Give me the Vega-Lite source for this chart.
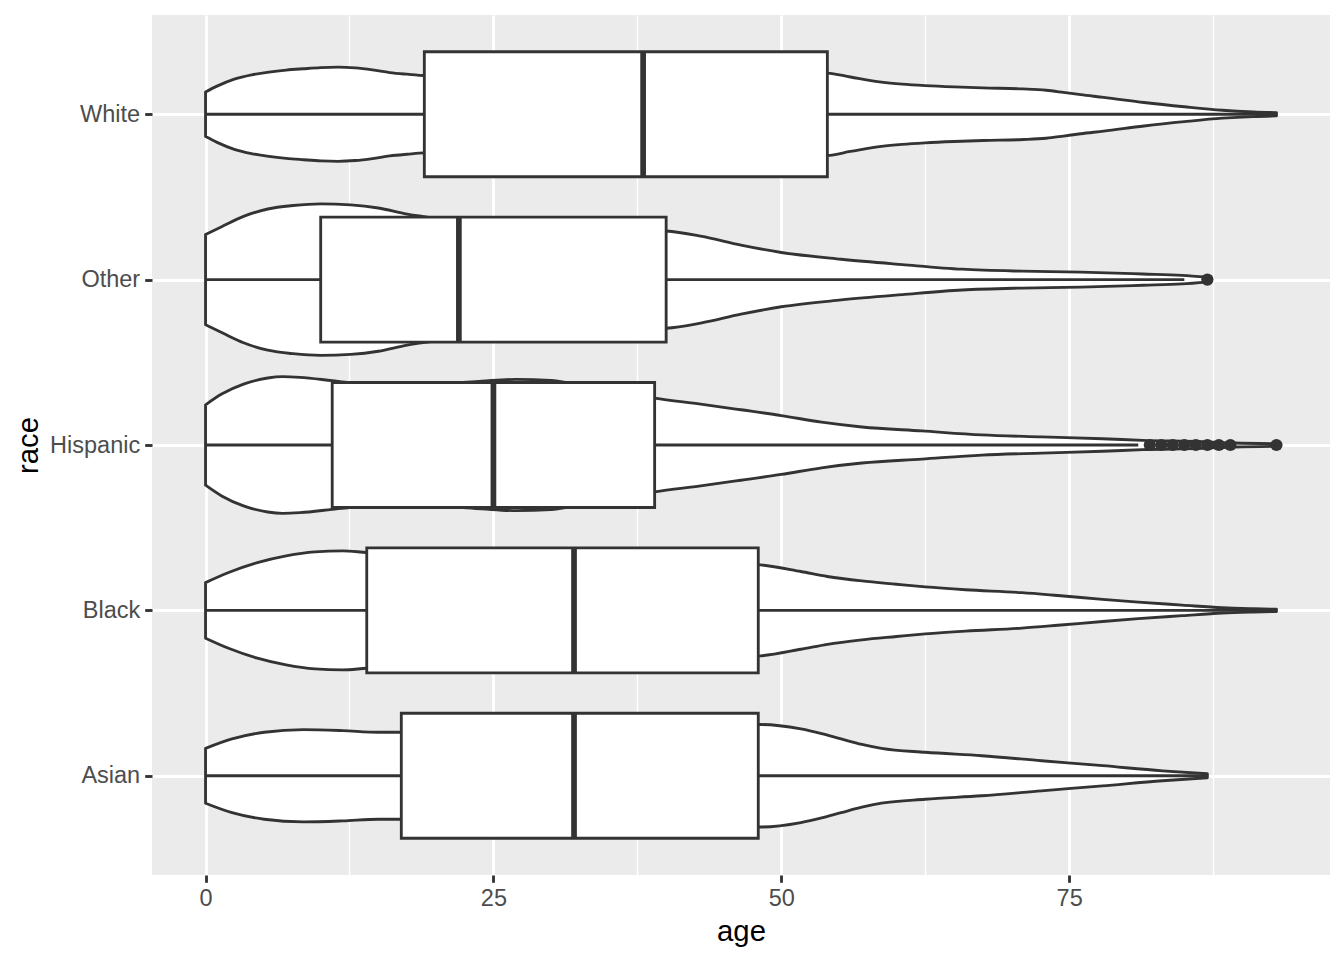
{
  "$schema": "https://vega.github.io/schema/vega-lite/v6.json",
  "width": 1178,
  "height": 860,
  "autosize": {"type": "none"},
  "padding": {"left": 152, "top": 15, "right": 14, "bottom": 85},
  "background": "white",
  "config": {
    "view": {"fill": "#EBEBEB", "stroke": null},
    "font": "Liberation Sans",
    "axis": {
      "domain": false,
      "tickColor": "#333333",
      "tickWidth": 2.84,
      "tickSize": 7.3,
      "labelColor": "#4D4D4D",
      "labelFontSize": 23.5,
      "labelFont": "Liberation Sans",
      "titleFont": "Liberation Sans",
      "titleFontSize": 29.3,
      "titleFontWeight": "normal",
      "titleColor": "#000000",
      "gridColor": "#FFFFFF",
      "gridOpacity": 1
    }
  },
  "datasets": {
    "violin": [
      {"race": "White", "age": 0, "density": 0.135},
      {"race": "White", "age": 1, "density": 0.17},
      {"race": "White", "age": 2.5, "density": 0.212},
      {"race": "White", "age": 4, "density": 0.238},
      {"race": "White", "age": 5.5, "density": 0.255},
      {"race": "White", "age": 7, "density": 0.267},
      {"race": "White", "age": 8.5, "density": 0.275},
      {"race": "White", "age": 10, "density": 0.282},
      {"race": "White", "age": 11.5, "density": 0.285},
      {"race": "White", "age": 13, "density": 0.28},
      {"race": "White", "age": 14.5, "density": 0.268},
      {"race": "White", "age": 16, "density": 0.252},
      {"race": "White", "age": 17.5, "density": 0.242},
      {"race": "White", "age": 19, "density": 0.234},
      {"race": "White", "age": 22, "density": 0.232},
      {"race": "White", "age": 26, "density": 0.234},
      {"race": "White", "age": 30, "density": 0.238},
      {"race": "White", "age": 35, "density": 0.243},
      {"race": "White", "age": 40, "density": 0.248},
      {"race": "White", "age": 45, "density": 0.252},
      {"race": "White", "age": 50, "density": 0.255},
      {"race": "White", "age": 54, "density": 0.249},
      {"race": "White", "age": 56, "density": 0.225},
      {"race": "White", "age": 58.7, "density": 0.194},
      {"race": "White", "age": 60.5, "density": 0.182},
      {"race": "White", "age": 62.5, "density": 0.173},
      {"race": "White", "age": 65, "density": 0.165},
      {"race": "White", "age": 67.5, "density": 0.159},
      {"race": "White", "age": 71, "density": 0.153},
      {"race": "White", "age": 73, "density": 0.145},
      {"race": "White", "age": 74.5, "density": 0.132},
      {"race": "White", "age": 76, "density": 0.118},
      {"race": "White", "age": 78, "density": 0.102},
      {"race": "White", "age": 81.5, "density": 0.071},
      {"race": "White", "age": 85, "density": 0.045},
      {"race": "White", "age": 88.3, "density": 0.024},
      {"race": "White", "age": 91, "density": 0.014},
      {"race": "White", "age": 93, "density": 0.01},
      {"race": "Other", "age": 0, "density": 0.273},
      {"race": "Other", "age": 1.4, "density": 0.32},
      {"race": "Other", "age": 3.3, "density": 0.382},
      {"race": "Other", "age": 5.4, "density": 0.427},
      {"race": "Other", "age": 7.6, "density": 0.448},
      {"race": "Other", "age": 10, "density": 0.458},
      {"race": "Other", "age": 12.6, "density": 0.452},
      {"race": "Other", "age": 15, "density": 0.433},
      {"race": "Other", "age": 17.5, "density": 0.396},
      {"race": "Other", "age": 20, "density": 0.372},
      {"race": "Other", "age": 25, "density": 0.345},
      {"race": "Other", "age": 30, "density": 0.322},
      {"race": "Other", "age": 35, "density": 0.305},
      {"race": "Other", "age": 40, "density": 0.294},
      {"race": "Other", "age": 43, "density": 0.263},
      {"race": "Other", "age": 46.5, "density": 0.209},
      {"race": "Other", "age": 50, "density": 0.164},
      {"race": "Other", "age": 55.2, "density": 0.123},
      {"race": "Other", "age": 60.5, "density": 0.091},
      {"race": "Other", "age": 65.7, "density": 0.063},
      {"race": "Other", "age": 70.9, "density": 0.051},
      {"race": "Other", "age": 76, "density": 0.045},
      {"race": "Other", "age": 81.4, "density": 0.034},
      {"race": "Other", "age": 84.8, "density": 0.026},
      {"race": "Other", "age": 87, "density": 0.015},
      {"race": "Hispanic", "age": 0, "density": 0.243},
      {"race": "Hispanic", "age": 1.4, "density": 0.308},
      {"race": "Hispanic", "age": 3.3, "density": 0.368},
      {"race": "Hispanic", "age": 5.4, "density": 0.405},
      {"race": "Hispanic", "age": 6.7, "density": 0.413},
      {"race": "Hispanic", "age": 8.2, "density": 0.409},
      {"race": "Hispanic", "age": 11, "density": 0.389},
      {"race": "Hispanic", "age": 12.5, "density": 0.378},
      {"race": "Hispanic", "age": 15, "density": 0.368},
      {"race": "Hispanic", "age": 18, "density": 0.364},
      {"race": "Hispanic", "age": 21, "density": 0.372},
      {"race": "Hispanic", "age": 24, "density": 0.386},
      {"race": "Hispanic", "age": 27, "density": 0.397},
      {"race": "Hispanic", "age": 30, "density": 0.39},
      {"race": "Hispanic", "age": 32, "density": 0.37},
      {"race": "Hispanic", "age": 35, "density": 0.335},
      {"race": "Hispanic", "age": 39, "density": 0.283},
      {"race": "Hispanic", "age": 43, "density": 0.247},
      {"race": "Hispanic", "age": 46.5, "density": 0.213},
      {"race": "Hispanic", "age": 50, "density": 0.178},
      {"race": "Hispanic", "age": 53.5, "density": 0.138},
      {"race": "Hispanic", "age": 57, "density": 0.109},
      {"race": "Hispanic", "age": 62.2, "density": 0.085},
      {"race": "Hispanic", "age": 67.4, "density": 0.061},
      {"race": "Hispanic", "age": 72.6, "density": 0.049},
      {"race": "Hispanic", "age": 77.9, "density": 0.038},
      {"race": "Hispanic", "age": 81.4, "density": 0.028},
      {"race": "Hispanic", "age": 86.6, "density": 0.02},
      {"race": "Hispanic", "age": 89.4, "density": 0.012},
      {"race": "Hispanic", "age": 93, "density": 0.008},
      {"race": "Black", "age": 0, "density": 0.168},
      {"race": "Black", "age": 2, "density": 0.229},
      {"race": "Black", "age": 4.5, "density": 0.289},
      {"race": "Black", "age": 7, "density": 0.33},
      {"race": "Black", "age": 9.5, "density": 0.354},
      {"race": "Black", "age": 11.9, "density": 0.36},
      {"race": "Black", "age": 14, "density": 0.35},
      {"race": "Black", "age": 18, "density": 0.34},
      {"race": "Black", "age": 22, "density": 0.333},
      {"race": "Black", "age": 26, "density": 0.326},
      {"race": "Black", "age": 30, "density": 0.318},
      {"race": "Black", "age": 35, "density": 0.308},
      {"race": "Black", "age": 40, "density": 0.298},
      {"race": "Black", "age": 44, "density": 0.288},
      {"race": "Black", "age": 48.2, "density": 0.275},
      {"race": "Black", "age": 51.7, "density": 0.235},
      {"race": "Black", "age": 54, "density": 0.205},
      {"race": "Black", "age": 57, "density": 0.178},
      {"race": "Black", "age": 60, "density": 0.158},
      {"race": "Black", "age": 62.5, "density": 0.142},
      {"race": "Black", "age": 66, "density": 0.125},
      {"race": "Black", "age": 70.9, "density": 0.107},
      {"race": "Black", "age": 74, "density": 0.09},
      {"race": "Black", "age": 77.9, "density": 0.067},
      {"race": "Black", "age": 81, "density": 0.05},
      {"race": "Black", "age": 84.8, "density": 0.032},
      {"race": "Black", "age": 88.3, "density": 0.016},
      {"race": "Black", "age": 91, "density": 0.01},
      {"race": "Black", "age": 93, "density": 0.007},
      {"race": "Asian", "age": 0, "density": 0.166},
      {"race": "Asian", "age": 2.3, "density": 0.223},
      {"race": "Asian", "age": 5.1, "density": 0.263},
      {"race": "Asian", "age": 8.5, "density": 0.279},
      {"race": "Asian", "age": 11.9, "density": 0.273},
      {"race": "Asian", "age": 15, "density": 0.263},
      {"race": "Asian", "age": 17, "density": 0.263},
      {"race": "Asian", "age": 20, "density": 0.265},
      {"race": "Asian", "age": 25, "density": 0.275},
      {"race": "Asian", "age": 30, "density": 0.287},
      {"race": "Asian", "age": 35, "density": 0.298},
      {"race": "Asian", "age": 40, "density": 0.306},
      {"race": "Asian", "age": 45, "density": 0.31},
      {"race": "Asian", "age": 48.2, "density": 0.31},
      {"race": "Asian", "age": 51.7, "density": 0.283},
      {"race": "Asian", "age": 53.5, "density": 0.255},
      {"race": "Asian", "age": 55.2, "density": 0.223},
      {"race": "Asian", "age": 57, "density": 0.19},
      {"race": "Asian", "age": 58.7, "density": 0.166},
      {"race": "Asian", "age": 62.5, "density": 0.142},
      {"race": "Asian", "age": 67.4, "density": 0.121},
      {"race": "Asian", "age": 72.6, "density": 0.091},
      {"race": "Asian", "age": 77.9, "density": 0.061},
      {"race": "Asian", "age": 83.1, "density": 0.03},
      {"race": "Asian", "age": 87, "density": 0.012}
    ],
    "box": [
      {"race": "White", "lower": 0, "q1": 19, "median": 38, "q3": 54, "upper": 93},
      {"race": "Other", "lower": 0, "q1": 10, "median": 22, "q3": 40, "upper": 85},
      {"race": "Hispanic", "lower": 0, "q1": 11, "median": 25, "q3": 39, "upper": 81},
      {"race": "Black", "lower": 0, "q1": 14, "median": 32, "q3": 48, "upper": 93},
      {"race": "Asian", "lower": 0, "q1": 17, "median": 32, "q3": 48, "upper": 87}
    ],
    "outliers": [
      {"race": "Other", "age": 87},
      {"race": "Hispanic", "age": 82},
      {"race": "Hispanic", "age": 83},
      {"race": "Hispanic", "age": 84},
      {"race": "Hispanic", "age": 85},
      {"race": "Hispanic", "age": 86},
      {"race": "Hispanic", "age": 87},
      {"race": "Hispanic", "age": 88},
      {"race": "Hispanic", "age": 89},
      {"race": "Hispanic", "age": 93}
    ]
  },
  "layer": [
    {
      "data": {"name": "violin"},
      "transform": [
        {"calculate": "indexof(['Asian','Black','Hispanic','Other','White'], datum.race) + 1", "as": "pos"},
        {"calculate": "datum.pos - datum.density", "as": "lo"},
        {"calculate": "datum.pos + datum.density", "as": "hi"}
      ],
      "mark": {"type": "area", "orient": "vertical", "fill": "#FFFFFF", "stroke": "#333333", "strokeWidth": 2.84, "interpolate": "monotone", "strokeJoin": "round"},
      "encoding": {
        "x": {
          "field": "age", "type": "quantitative", "title": "age",
          "scale": {"domain": [-4.65, 97.65], "nice": false, "zero": false},
          "axis": {
            "values": [0, 12.5, 25, 37.5, 50, 62.5, 75, 87.5],
            "labelExpr": "datum.value % 25 === 0 ? datum.label : ''",
            "grid": true,
            "gridWidth": {"condition": {"test": "datum.value % 25 !== 0", "value": 1.42}, "value": 2.84},
            "tickOpacity": {"condition": {"test": "datum.value % 25 !== 0", "value": 0}, "value": 1},
            "labelPadding": 4,
            "titlePadding": 8
          }
        },
        "y": {
          "field": "lo", "type": "quantitative", "title": "race",
          "scale": {"domain": [0.4, 5.6], "nice": false, "zero": false},
          "axis": {
            "values": [1, 2, 3, 4, 5],
            "labelExpr": "['Asian','Black','Hispanic','Other','White'][datum.value - 1]",
            "grid": true,
            "gridWidth": 2.84,
            "labelPadding": 5,
            "titlePadding": 6
          }
        },
        "y2": {"field": "hi"},
        "detail": {"field": "race"}
      }
    },
    {
      "data": {"name": "box"},
      "transform": [
        {"calculate": "indexof(['Asian','Black','Hispanic','Other','White'], datum.race) + 1", "as": "pos"}
      ],
      "mark": {"type": "rule", "stroke": "#333333", "strokeWidth": 2.84},
      "encoding": {
        "x": {"field": "lower", "type": "quantitative", "title": "age"},
        "x2": {"field": "upper"},
        "y": {"field": "pos", "type": "quantitative", "title": "race"}
      }
    },
    {
      "data": {"name": "box"},
      "transform": [
        {"calculate": "indexof(['Asian','Black','Hispanic','Other','White'], datum.race) + 1", "as": "pos"},
        {"calculate": "datum.pos - 0.378", "as": "blo"},
        {"calculate": "datum.pos + 0.378", "as": "bhi"}
      ],
      "mark": {"type": "rect", "fill": "#FFFFFF", "stroke": "#333333", "strokeWidth": 2.84},
      "encoding": {
        "x": {"field": "q1", "type": "quantitative", "title": "age"},
        "x2": {"field": "q3"},
        "y": {"field": "blo", "type": "quantitative", "title": "race"},
        "y2": {"field": "bhi"}
      }
    },
    {
      "data": {"name": "box"},
      "transform": [
        {"calculate": "indexof(['Asian','Black','Hispanic','Other','White'], datum.race) + 1", "as": "pos"},
        {"calculate": "datum.pos - 0.378", "as": "blo"},
        {"calculate": "datum.pos + 0.378", "as": "bhi"}
      ],
      "mark": {"type": "rule", "stroke": "#333333", "strokeWidth": 5.7},
      "encoding": {
        "x": {"field": "median", "type": "quantitative", "title": "age"},
        "y": {"field": "blo", "type": "quantitative", "title": "race"},
        "y2": {"field": "bhi"}
      }
    },
    {
      "data": {"name": "outliers"},
      "transform": [
        {"calculate": "indexof(['Asian','Black','Hispanic','Other','White'], datum.race) + 1", "as": "pos"}
      ],
      "mark": {"type": "circle", "color": "#333333", "opacity": 1, "size": 150},
      "encoding": {
        "x": {"field": "age", "type": "quantitative", "title": "age"},
        "y": {"field": "pos", "type": "quantitative", "title": "race"}
      }
    }
  ]
}
